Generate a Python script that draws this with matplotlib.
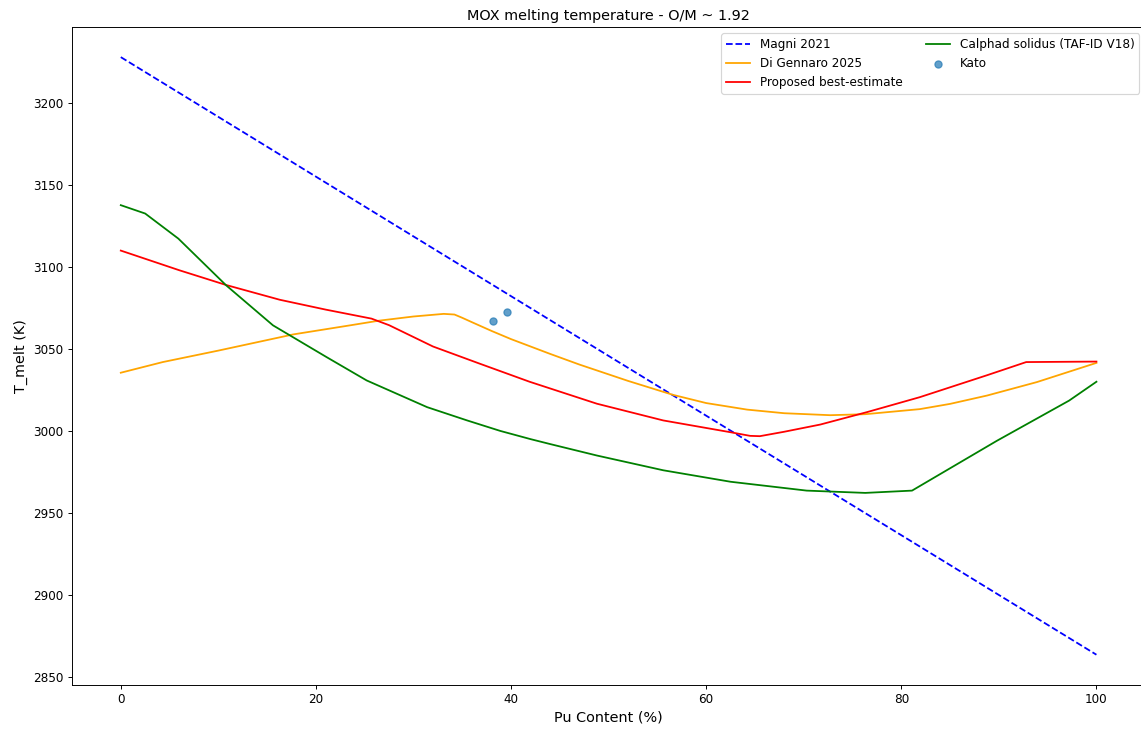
import matplotlib
matplotlib.use("Agg")
from matplotlib import pyplot as plt

# Pu content (%) and melting temperatures (K)
x_magni = [0, 100]
t_magni = [3228, 2863.5]

x_digen = [0, 4.3, 10, 17.7, 23.5, 26.4, 30, 33.1, 34.2, 35, 36, 38, 40, 44, 47, 52,
           56.6, 60, 64.2, 68, 72.7, 76.3, 81.9, 85, 88.8, 93.9, 100]
t_digen = [3035.5, 3042, 3049, 3058.9, 3064.4, 3067.2, 3069.8, 3071.4, 3071, 3069, 3066.3,
           3061, 3056, 3047, 3040.5, 3030.5, 3022, 3017, 3013, 3010.8, 3009.6,
           3010.2, 3013.3, 3016.5, 3021.6, 3029.8, 3041.5]

x_best = [0, 6, 10.8, 16.3, 21, 25.7, 27.5, 32, 36.8, 41.9, 48.8, 55.6, 62.5, 64.5,
          65.5, 68, 71.7, 76.5, 81.9, 88.8, 92.8, 100]
t_best = [3110, 3098, 3089, 3080, 3074, 3068.5, 3064.5, 3051.5, 3041, 3030, 3016.6,
          3006.4, 2999.2, 2997, 2996.8, 2999.5, 3003.9, 3011.5, 3020.6, 3034, 3042, 3042.3]

x_calphad = [0, 2.5, 5.9, 10.8, 15.6, 21.1, 25.2, 31.4, 35.5, 38.9, 42, 44, 48.8,
             55.6, 62.5, 70.3, 76.3, 81.1, 89.8, 97.2, 100]
t_calphad = [3137.7, 3132.6, 3117.3, 3088.8, 3064.4, 3045, 3030.8, 3014.5, 3006.4,
             3000, 2995, 2992, 2985, 2976, 2969, 2963.6, 2962.2, 2963.6, 2994, 3018.5, 3030]

x_kato = [38.2, 39.6]
t_kato = [3067, 3072.5]

# the reference looks like a 13.3 x 8.5 in figure shrunk to 1141 x 729
fig = plt.figure(figsize=(13.27, 8.477))
ax = fig.add_axes([0.0631, 0.0609, 0.9404, 0.9017])

ax.plot(x_magni, t_magni, '--', color='blue', label='Magni 2021')
ax.plot(x_digen, t_digen, color='orange', label='Di Gennaro 2025')
ax.plot(x_best, t_best, color='red', label='Proposed best-estimate')
ax.plot(x_calphad, t_calphad, color='green', label='Calphad solidus (TAF-ID V18)')
ax.scatter(x_kato, t_kato, alpha=0.7, label='Kato')

ax.set_xlabel('Pu Content (%)', fontsize=12)
ax.set_ylabel('T_melt (K)', fontsize=12)
ax.set_title('MOX melting temperature - O/M ~ 1.92')
ax.legend(loc='upper right', ncol=2)

fig.savefig('out.png', dpi=86)
